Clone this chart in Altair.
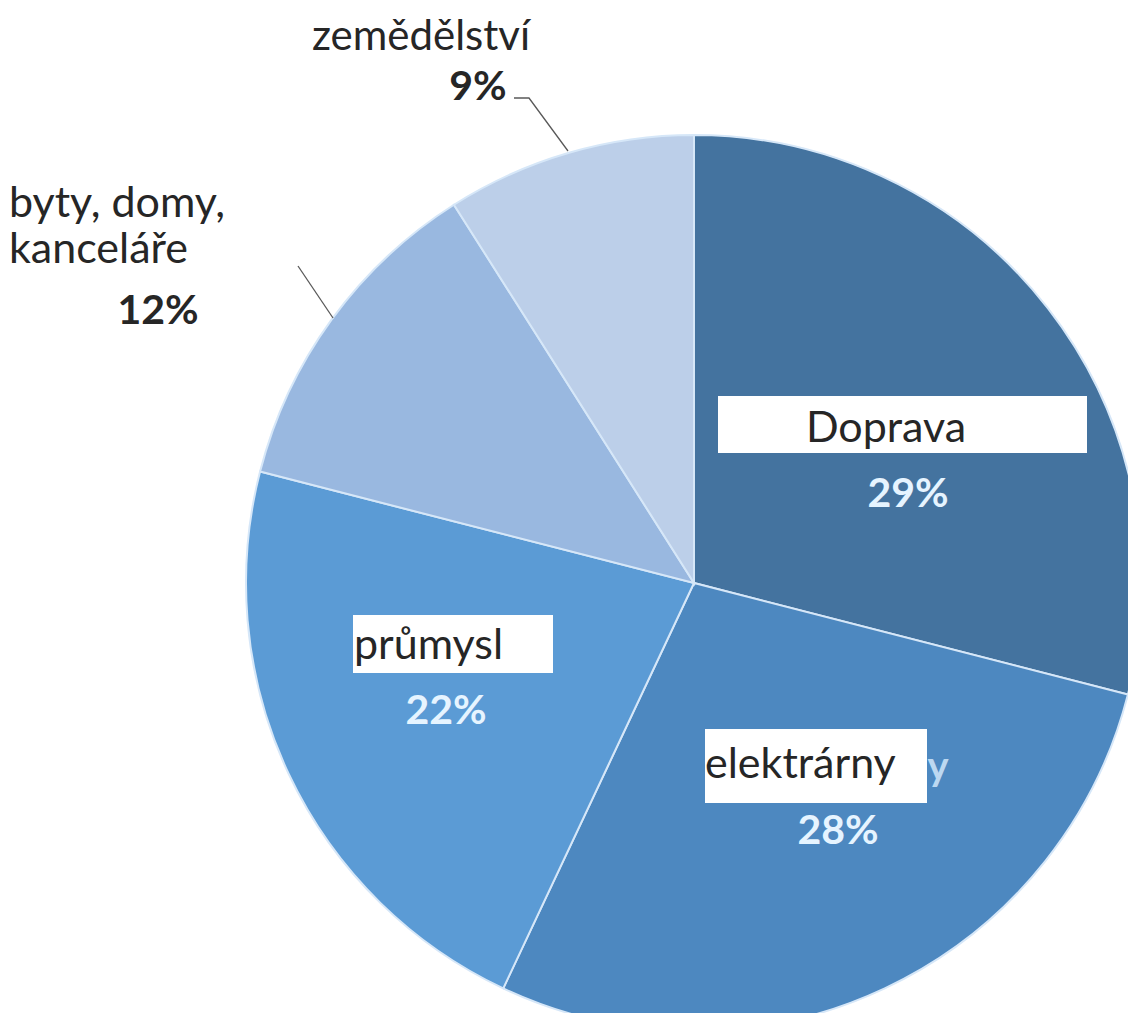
import altair as alt
import pandas as pd

# ---- data ----
categories = ["Doprava", "elektrárny", "průmysl", "byty, domy, kanceláře", "zemědělství"]
shares = [29, 28, 22, 12, 9]
pct_labels = ["29%", "28%", "22%", "12%", "9%"]

# ---- style / layout ----
colors = ["#44739f", "#4d88c0", "#5b9bd5", "#99b8e0", "#bccfe9"]
FONT = "Lato"
OFF = 8  # page margin
CX, CY, R = 694 - OFF, 583 - OFF, 448
W, H = 1120, 1005

pie_df = pd.DataFrame({"cat": categories, "share": shares, "ord": list(range(len(categories)))})

pie = alt.Chart(pie_df).mark_arc(radius=R, stroke="#d6e7f8", strokeWidth=2).encode(
    theta=alt.Theta("share:Q", stack=True),
    order=alt.Order("ord:Q", sort="ascending"),
    color=alt.Color("cat:N", scale=alt.Scale(domain=categories, range=colors), legend=None),
    x=alt.value(CX),
    y=alt.value(CY),
)

# white label boxes (page coords)
box_df = pd.DataFrame({
    "x1": [718, 353, 705], "x2": [1087, 553, 927],
    "y1": [396, 615, 729], "y2": [453, 673, 803],
})
for c in ["x1", "x2", "y1", "y2"]:
    box_df[c] = box_df[c] - OFF
boxes = alt.Chart(box_df).mark_rect(color="white").encode(
    x=alt.X("x1:Q", scale=None), x2="x2:Q",
    y=alt.Y("y1:Q", scale=None), y2="y2:Q",
)

# leader lines (page coords)
lead_df = pd.DataFrame({
    "g": ["a", "a", "a", "b", "b"],
    "o": [0, 1, 2, 0, 1],
    "px": [514, 529, 568, 298, 333],
    "py": [98, 98, 151, 266, 318],
})
lead_df["px"] -= OFF
lead_df["py"] -= OFF
leaders = alt.Chart(lead_df).mark_line(color="#595959", strokeWidth=1.3).encode(
    x=alt.X("px:Q", scale=None), y=alt.Y("py:Q", scale=None),
    detail="g:N", order="o:Q",
)

def txt_layer(rows, align, weight, color, size, baseline="middle"):
    df = pd.DataFrame(rows, columns=["t", "px", "py"])
    df["px"] -= OFF
    df["py"] -= OFF
    return alt.Chart(df).mark_text(
        align=align, baseline=baseline, font=FONT, fontWeight=weight,
        color=color, fontSize=size,
    ).encode(x=alt.X("px:Q", scale=None), y=alt.Y("py:Q", scale=None), text="t:N")

dark = "#262626"
top_reg = txt_layer([
    ["zemědělství", 312, 50],
], "left", "normal", dark, 42, baseline="alphabetic")

left_reg = txt_layer([
    ["byty, domy,", 9, 204],
    ["kanceláře", 9, 250],
    ["průmysl", 354, 646],
    ["elektrárny", 705, 765],
], "left", "normal", dark, 43)

center_reg = txt_layer([
    ["Doprava", 886, 429],
], "center", "normal", dark, 43)

outside_pct = txt_layer([
    [pct_labels[4], 478, 88],
    [pct_labels[3], 158, 312],
], "center", "bold", dark, 41)

inside_pct = txt_layer([
    [pct_labels[0], 908, 495],
    [pct_labels[2], 446, 712],
    [pct_labels[1], 838, 832],
], "center", "bold", "#e6f4ff", 41)

ghost = txt_layer([["y", 938, 768]], "center", "bold", "#bcd8f1", 40)

chart = alt.layer(pie, boxes, leaders, ghost, top_reg, left_reg, center_reg, outside_pct, inside_pct).properties(
    width=W, height=H, padding=0, autosize=alt.AutoSizeParams(type="none"),
    background="white",
).configure_view(stroke=None)

chart.save("out.html", embed_options={"renderer": "svg", "actions": False})
